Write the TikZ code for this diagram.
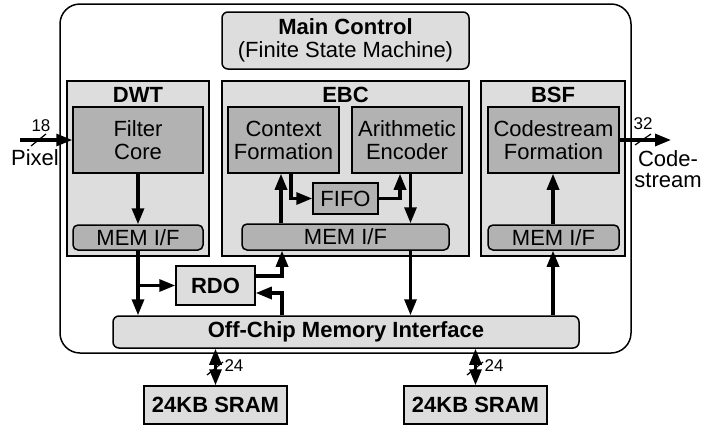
\documentclass[tikz,border=0pt]{standalone}
\usepackage{fontspec}
\setmainfont{Liberation Sans}
\usetikzlibrary{arrows.meta}
\definecolor{panel}{RGB}{221,221,221}
\definecolor{block}{RGB}{178,178,178}
\begin{document}
\begin{tikzpicture}[x=1pt,y=-1pt,
  font=\fontsize{22}{23}\selectfont,
  sz/.style 2 args={minimum width=#1pt, minimum height=#2pt},
  box/.style={draw, line width=1.5pt, inner sep=0pt, align=center},
  panelbox/.style={box, fill=panel},
  blockbox/.style={box, fill=block},
  membox/.style={box, fill=block, rounded corners=5pt},
  boldtxt/.style={font=\fontsize{22}{23}\selectfont\bfseries},
  lbl/.style={boldtxt, inner sep=0pt, anchor=base},
  small/.style={font=\fontsize{17}{19}\selectfont, inner sep=0pt},
  tip/.tip={Triangle[length=16pt,width=12pt]},
  arr/.style={line width=3.2pt, -tip},
  biarr/.style={line width=3.2pt, tip-tip},
  slash/.style={line width=1.2pt}]

\fill[white] (0,0) rectangle (704,426);
\useasboundingbox (0,0) rectangle (704,426);

% chip boundary
\node[draw, line width=1.5pt, rounded corners=20pt, inner sep=0pt, sz={571}{349}] (chip) at (345.5,178.5) {};

% main controller
\node[panelbox, rounded corners=6pt, sz={247}{57}] (main) at (345.5,40.5)
  {\textbf{Main Control}\\(Finite State Machine)};

% three processing units
\node[panelbox, sz={142}{175}] (dwt) at (138,168.5) {};
\node[panelbox, sz={247}{175}] (ebc) at (345.5,168.5) {};
\node[panelbox, sz={144}{175}] (bsf) at (553,168.5) {};
\node[lbl] (dwtl) at (138,102) {DWT};
\node[lbl] (ebcl) at (345.5,102) {EBC};
\node[lbl] (bsfl) at (553,102) {BSF};

% inner blocks
\node[blockbox, sz={130}{66}] (filter) at (138,140) {Filter\\Core};
\node[blockbox, sz={111}{66}] (ctx) at (283.5,140) {Context\\Formation};
\node[blockbox, sz={110}{66}] (arith) at (407,140) {Arithmetic\\Encoder};
\node[blockbox, sz={131}{66}] (csf) at (553.5,140) {Codestream\\Formation};
\node[blockbox, sz={65}{31}] (fifo) at (345.5,198.5) {FIFO};

% memory interfaces
\node[membox, sz={130}{25}] (mem1) at (138,237.5) {MEM I/F};
\node[membox, sz={207}{26}] (mem2) at (345.5,237) {MEM I/F};
\node[membox, sz={131}{25}] (mem3) at (553.5,237.5) {MEM I/F};

\node[panelbox, sz={79}{39}, boldtxt] (rdo) at (215.5,285.5) {RDO};
\node[panelbox, rounded corners=6pt, sz={466}{32}, boldtxt] (off) at (346,332) {Off-Chip Memory Interface};

% external memories
\node[panelbox, sz={143}{38}, boldtxt] (sram1) at (215.5,405) {24KB SRAM};
\node[panelbox, sz={143}{38}, boldtxt] (sram2) at (475.5,405) {24KB SRAM};

% x positions of vertical connectors
\coordinate (xa) at (281,0);
\coordinate (xb) at (291,0);
\coordinate (xc) at (400,0);
\coordinate (xd) at (410.5,0);
\coordinate (xr) at (282,0);
\coordinate (xs) at (553,0);
\coordinate (pin) at (20,140);
\coordinate (cout) at (671,140);
\coordinate (br) at (138,285.5);

% data flow
\draw[arr] (pin) -- (filter.west);
\draw[arr] (csf.east) -- (cout);
\draw[arr] (filter.south) -- (mem1.north);
\draw[arr] (mem1.south) -- (off.north -| mem1.south);
\draw[arr] (br) -- (rdo.west);
\draw[arr] ([yshift=9.5pt]rdo.east) -| (mem2.south -| xr);
\draw[arr] (off.north -| xr) |- ([yshift=-7.5pt]rdo.east);
\draw[arr] (mem2.north -| xa) -- (ctx.south -| xa);
\draw[arr] (ctx.south -| xb) |- (fifo.west);
\draw[arr] (fifo.east) -| (arith.south -| xc);
\draw[arr] (arith.south -| xd) -- (mem2.north -| xd);
\draw[arr] (mem2.south -| xd) -- (off.north -| xd);
\draw[arr] (off.north -| xs) -- (mem3.south -| xs);
\draw[arr] (mem3.north -| xs) -- (csf.south -| xs);
\draw[biarr] (off.south -| sram1.north) -- (sram1.north);
\draw[biarr] (off.south -| sram2.north) -- (sram2.north);

% bus widths
\draw[slash] (31,146) -- (46,134);
\node[small] (w18) at (41,126) {18};
\node[inner sep=0pt] (pixl) at (35,158) {Pixel};
\draw[slash] (635,145) -- (651,134);
\node[small] (w32) at (643,124) {32};
\node[inner sep=0pt, align=center, font=\fontsize{22}{21}\selectfont] (csl) at (668,169) {Code-\\stream};
\draw[slash] (207,375) -- (223,362);
\node[small] (w24a) at (234,366) {24};
\draw[slash] (467,375) -- (483,362);
\node[small] (w24b) at (494,366) {24};
\end{tikzpicture}
\end{document}
